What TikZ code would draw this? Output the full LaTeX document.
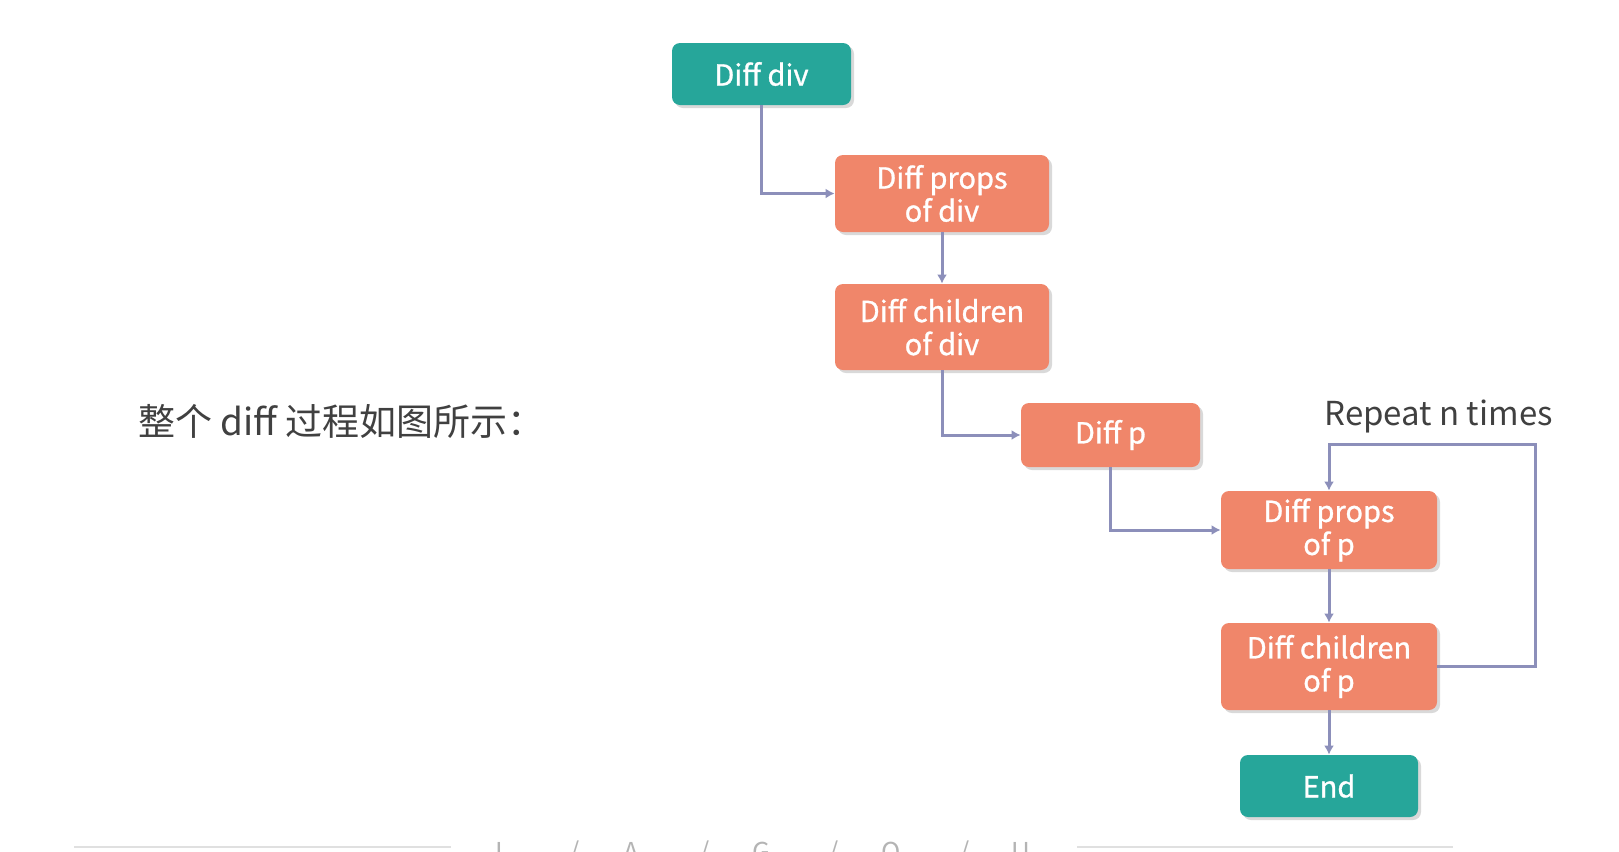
\documentclass[tikz,border=0pt]{standalone}
\usepackage{fontspec}
\setmainfont{Noto Sans CJK SC}
\newfontfamily\boxfont[FakeBold=1]{Noto Sans CJK SC}
\usetikzlibrary{arrows.meta, positioning, shadows}
\definecolor{myteal}{RGB}{38,166,154}
\definecolor{myorange}{RGB}{240,134,106}
\definecolor{mylink}{RGB}{140,143,186}
\definecolor{mytext}{RGB}{64,64,64}
\definecolor{myrule}{RGB}{224,224,224}
\definecolor{mylogo}{RGB}{180,180,180}
\tikzset{
  endbox/.style={rectangle, fill=myteal, text=white, align=center,
    font=\boxfont\fontsize{14.5}{16.5}\selectfont, rounded corners=4pt,
    drop shadow={shadow xshift=1.5pt, shadow yshift=-1.5pt, opacity=0.3}},
  stepbox/.style={rectangle, fill=myorange, text=white, align=center,
    font=\boxfont\fontsize{14.5}{16.5}\selectfont, rounded corners=4pt,
    drop shadow={shadow xshift=1.5pt, shadow yshift=-1.5pt, opacity=0.3}},
  arrow/.style={-{Latex[length=4.5pt,width=5pt]}, line width=1.5pt, color=mylink},
  logo/.style={anchor=base, text=mylogo, font=\fontsize{13}{13}\selectfont}
}
\begin{document}
\begin{tikzpicture}[x=0.5pt, y=-0.5pt]
  \useasboundingbox (0,0) rectangle (1619,852);
  \clip (0,0) rectangle (1619,852);

  % Caption
  \node[anchor=base west, text=mytext, font=\fontsize{18.5}{20}\selectfont, inner sep=0pt]
    (caption) at (138,435) {整个 diff 过程如图所示：};

  % Boxes for div
  \node[endbox, minimum width=89.5pt, minimum height=31pt] (div) at (761.5,74) {Diff div};
  \node[stepbox, minimum width=107pt, minimum height=38.5pt] (propsdiv) at (942,193.5) {Diff props\\of div};
  \node[stepbox, minimum width=107pt, minimum height=43pt] (childdiv) at (942,327) {Diff children\\of div};

  % Boxes for p
  \node[stepbox, minimum width=89.5pt, minimum height=32pt] (diffp) at (1110.5,435) {Diff p};
  \node[stepbox, minimum width=108pt, minimum height=39pt] (propsp) at (1329,530) {Diff props\\of p};
  \node[stepbox, minimum width=108pt, minimum height=43.5pt] (childp) at (1329,666.5) {Diff children\\of p};
  \node[endbox, minimum width=89pt, minimum height=31pt] (end) at (1329,786) {End};

  % Loop label
  \node[anchor=base west, text=mytext, font=\fontsize{16.5}{18}\selectfont, inner sep=0pt]
    (repeat) at (1324,425) {Repeat n times};

  % Connectors
  \draw[arrow] (div.south) |- (propsdiv.west);
  \draw[arrow] (propsdiv) -- (childdiv);
  \draw[arrow] (childdiv.south) |- (diffp.west);
  \draw[arrow] (diffp.south) |- (propsp.west);
  \draw[arrow] (propsp) -- (childp);
  \draw[arrow] (childp) -- (end);
  \coordinate (loopr) at (1535,444);
  \draw[arrow] (childp.east) -| (loopr) -| (propsp.north);

  % Footer
  \draw[myrule, line width=1pt] (74,847) -- (451,847);
  \draw[myrule, line width=1pt] (1077,847) -- (1453,847);
  \foreach \x/\c in {503/L, 631/A, 761/G, 891/O, 1021/U} {
    \node[logo] at (\x,861) {\c};
  }
  \foreach \x in {575, 705, 834, 965} {
    \node[logo] at (\x,861) {/};
  }
\end{tikzpicture}
\end{document}
